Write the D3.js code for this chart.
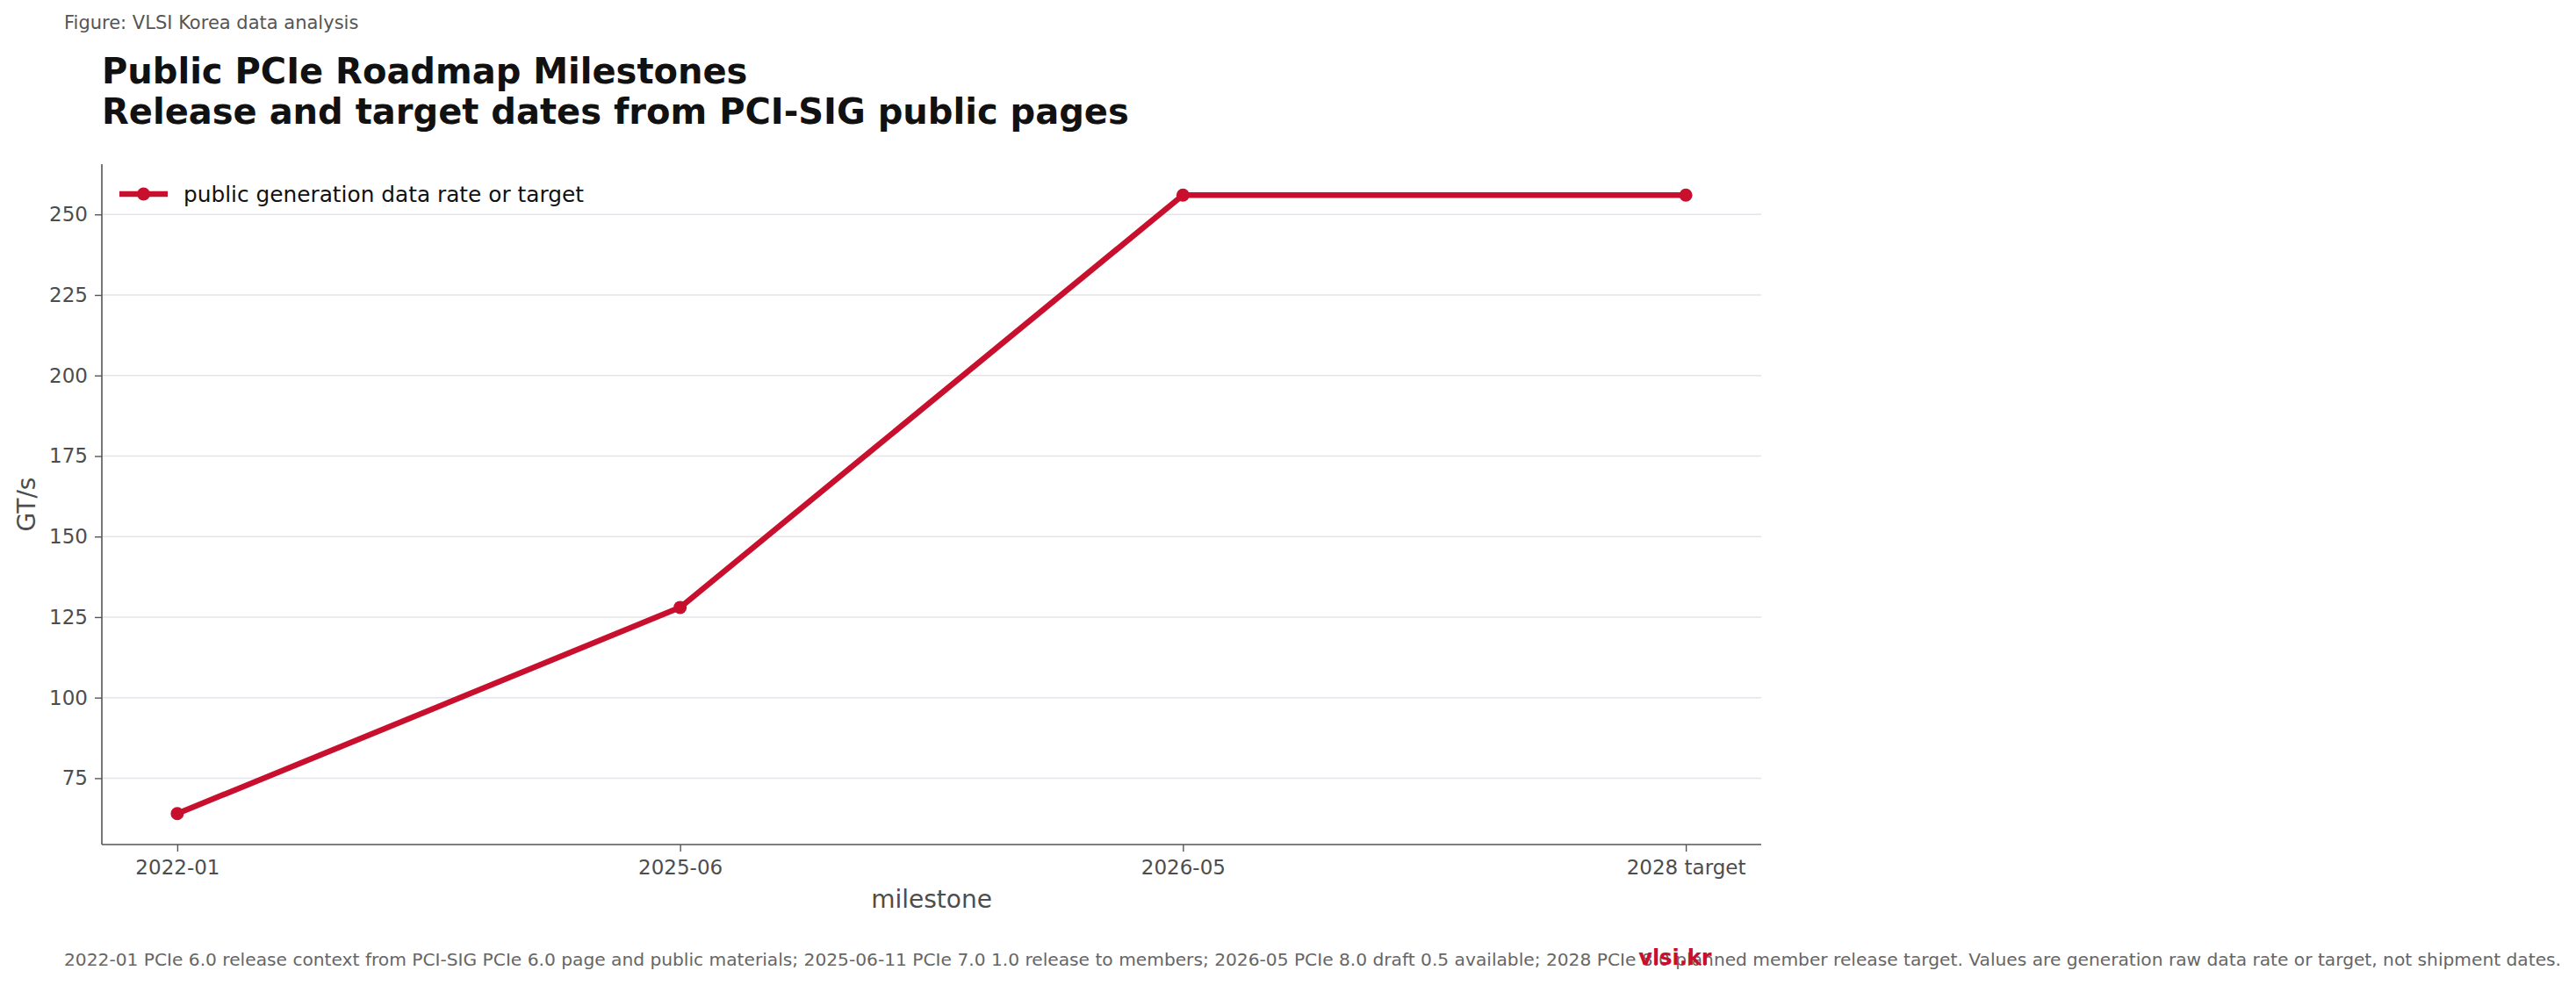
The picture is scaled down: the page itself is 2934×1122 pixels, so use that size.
<!DOCTYPE html>
<html>
<head>
  <meta charset="utf-8">
  <script src="https://d3js.org/d3.v7.min.js"></script>
  <style>
    body { margin: 0; background: #fff; }
    text { font-family: "DejaVu Sans", sans-serif; }
  </style>
</head>
<body>
<script type="text/javascript">

// chart data
var milestones = ["2022-01", "2025-06", "2026-05", "2028 target"];
var rates = [64, 128, 256, 256];
var yTicks = [75, 100, 125, 150, 175, 200, 225, 250];

var seriesName = "public generation data rate or target";
var title1 = "Public PCIe Roadmap Milestones";
var title2 = "Release and target dates from PCI-SIG public pages";
var figLabel = "Figure: VLSI Korea data analysis";
var footNote = "2022-01 PCIe 6.0 release context from PCI-SIG PCIe 6.0 page and public materials; 2025-06-11 PCIe 7.0 1.0 release to members; 2026-05 PCIe 8.0 draft 0.5 available; 2028 PCIe 8.0 planned member release target. Values are generation raw data rate or target, not shipment dates.";

var W = 2934, H = 1122;
var red = "#c8102e";
var plot = {left: 116, right: 2006, top: 187, bottom: 962};

var svg = d3.select("body").append("svg")
    .attr("width", W)
    .attr("height", H);

// x: categorical positions with a 5% margin, like the original
var x = d3.scaleLinear()
    .domain([-0.15, milestones.length - 1 + 0.15])
    .range([plot.left, plot.right]);

var yMin = d3.min(rates), yMax = d3.max(rates), pad = (yMax - yMin) * 0.05;
var y = d3.scaleLinear()
    .domain([yMin - pad, yMax + pad])
    .range([plot.bottom, plot.top]);

// grid
svg.append("g")
    .selectAll("line")
    .data(yTicks)
    .enter().append("line")
    .attr("x1", plot.left)
    .attr("x2", plot.right)
    .attr("y1", function(d) { return y(d); })
    .attr("y2", function(d) { return y(d); })
    .style("stroke", "#e4e4ea")
    .style("stroke-width", 1.5);

// axes
var yAxis = svg.append("g")
    .attr("transform", "translate(" + plot.left + ",0)")
    .call(d3.axisLeft(y).tickValues(yTicks).tickSize(8).tickPadding(8));

var xAxis = svg.append("g")
    .attr("transform", "translate(0," + plot.bottom + ")")
    .call(d3.axisBottom(x)
        .tickValues(d3.range(milestones.length))
        .tickFormat(function(i) { return milestones[i]; })
        .tickSize(8).tickPadding(10));

[yAxis, xAxis].forEach(function(g) {
    g.select(".domain").style("stroke", "#555").style("stroke-width", 1.6);
    g.selectAll(".tick line").style("stroke", "#555").style("stroke-width", 1.4);
    g.selectAll(".tick text")
        .style("font-family", "DejaVu Sans")
        .style("font-size", "23px")
        .style("fill", "#4d4d4d");
});
// straight spines without end caps
yAxis.select(".domain").attr("d", "M0," + plot.top + "V" + plot.bottom);
xAxis.select(".domain").attr("d", "M" + plot.left + ",0H" + plot.right);

// axis labels
svg.append("text")
    .attr("x", (plot.left + plot.right) / 2)
    .attr("y", 1034)
    .attr("text-anchor", "middle")
    .style("font-size", "28px")
    .style("fill", "#4d4d4d")
    .text("milestone");

svg.append("text")
    .attr("transform", "translate(40," + (plot.top + plot.bottom) / 2 + ") rotate(-90)")
    .attr("text-anchor", "middle")
    .style("font-size", "28px")
    .style("fill", "#4d4d4d")
    .text("GT/s");

// line and points
var line = d3.line()
    .x(function(d, i) { return x(i); })
    .y(function(d) { return y(d); });

svg.append("path")
    .datum(rates)
    .attr("d", line)
    .style("fill", "none")
    .style("stroke", red)
    .style("stroke-width", 6.5)
    .style("stroke-linejoin", "round");

svg.selectAll(".pt")
    .data(rates)
    .enter().append("circle")
    .attr("class", "pt")
    .attr("cx", function(d, i) { return x(i); })
    .attr("cy", function(d) { return y(d); })
    .attr("r", 7.5)
    .style("fill", red);

// legend
var lg = svg.append("g").attr("transform", "translate(136,221)");
lg.append("line")
    .attr("x1", 0).attr("x2", 55)
    .style("stroke", red)
    .style("stroke-width", 6.5);
lg.append("circle")
    .attr("cx", 27.5)
    .attr("r", 7.5)
    .style("fill", red);
lg.append("text")
    .attr("x", 73)
    .attr("y", 9)
    .style("font-size", "24.8px")
    .style("fill", "#111")
    .text(seriesName);

// titles
svg.append("text")
    .attr("x", 73)
    .attr("y", 33)
    .style("font-size", "21px")
    .style("fill", "#555")
    .text(figLabel);

svg.append("text")
    .attr("x", 116)
    .attr("y", 95)
    .style("font-size", "40px")
    .style("font-weight", "bold")
    .style("fill", "#111")
    .text(title1);

svg.append("text")
    .attr("x", 116)
    .attr("y", 141)
    .style("font-size", "40px")
    .style("font-weight", "bold")
    .style("fill", "#111")
    .text(title2);

// footer (the brand mark sits over it, as in the original)
svg.append("text")
    .attr("x", 73)
    .attr("y", 1100)
    .style("font-size", "20.2px")
    .style("fill", "#666")
    .text(footNote);

svg.append("text")
    .attr("x", 1908)
    .attr("y", 1099)
    .attr("text-anchor", "middle")
    .style("font-size", "24px")
    .style("font-weight", "bold")
    .style("fill", red)
    .text("vlsi.kr");

</script>
</body>
</html>
